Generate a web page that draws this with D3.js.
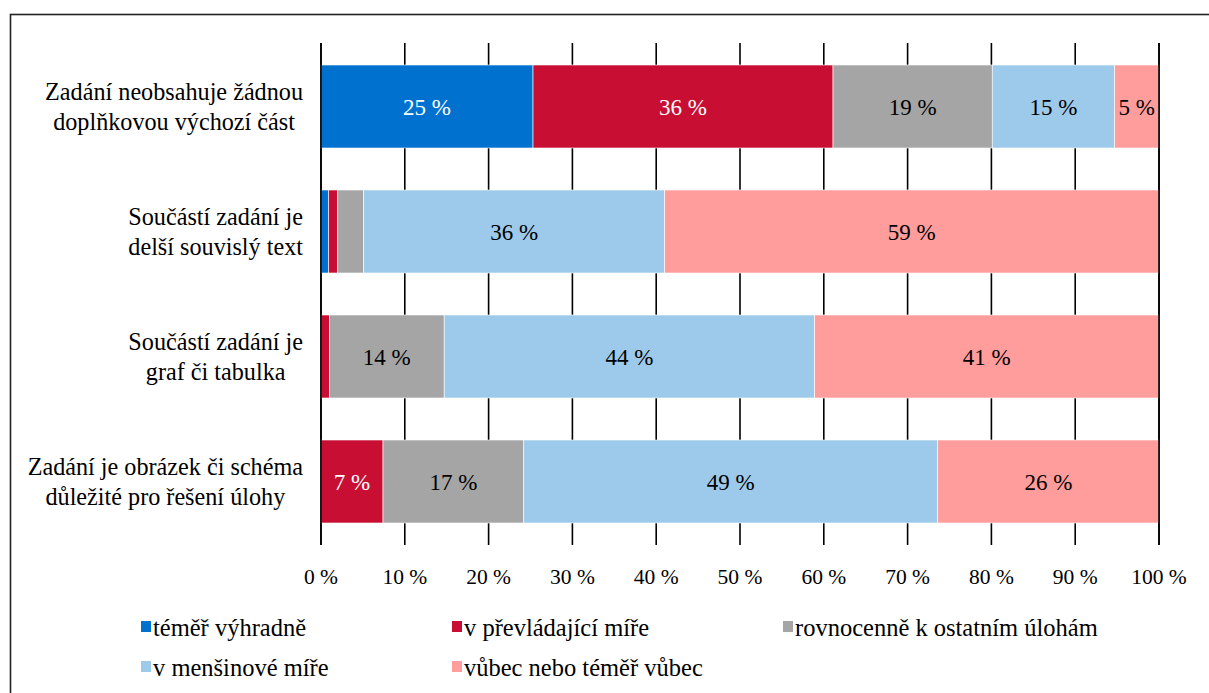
<!DOCTYPE html>
<html>
<head>
<meta charset="utf-8">
<script src="https://cdn.jsdelivr.net/npm/d3@7"></script>
<style>
  body { margin: 0; background: #fff; }
  svg { display: block; }
  text { font-family: "Liberation Serif", "Times New Roman", Times, "DejaVu Serif", serif; }
</style>
</head>
<body>
<svg id="chart" width="1209" height="693"></svg>
<script>
const categories = [
  ['Zadání neobsahuje žádnou', 'doplňkovou výchozí část'],
  ['Součástí zadání je', 'delší souvislý text'],
  ['Součástí zadání je', 'graf či tabulka'],
  ['Zadání je obrázek či schéma', 'důležité pro řešení úlohy']
]
const seriesNames = [
  'téměř výhradně',
  'v převládající míře',
  'rovnocenně k ostatním úlohám',
  'v menšinové míře',
  'vůbec nebo téměř vůbec'
]
const seriesColors = ['#0071ce', '#c80f33', '#a5a5a5', '#9dcaea', '#ff9c9c']
const labelColors = ['#fff', '#fff', '#000', '#000', '#000']

// one value per row (top to bottom)
const temerVyhradne = [25.3, 0.9, 0, 0]
const vPrevladajici = [35.8, 1.1, 1.0, 7.4]
const rovnocenne = [19.0, 3.1, 13.7, 16.8]
const vMensinove = [14.6, 35.9, 44.2, 49.4]
const vubec = [5.3, 59.0, 41.1, 26.4]

const tickValues = [0, 10, 20, 30, 40, 50, 60, 70, 80, 90, 100]

const seriesValues = [temerVyhradne, vPrevladajici, rovnocenne, vMensinove, vubec]
const rows = categories.map((c, i) => {
  const r = { id: i }
  seriesNames.forEach((s, j) => { r[s] = seriesValues[j][i] })
  return r
})

const serif = '"Liberation Serif", "Times New Roman", Times, "DejaVu Serif", serif'
const svg = d3.select('#chart').attr('font-family', serif)

// outer frame, runs past the window edges
svg.append('rect')
  .attr('x', 10.5).attr('y', 14.5)
  .attr('width', 1260).attr('height', 720)
  .attr('fill', 'none').attr('stroke', '#222').attr('stroke-width', 1.6)

const x = d3.scaleLinear().domain([0, 100]).range([321, 1159])
const y = d3.scaleBand().domain(d3.range(categories.length))
  .range([44, 544]).paddingInner(0.336).paddingOuter(0.168)

const gridTop = 43
const gridBottom = 545

const grid = svg.append('g')
grid.selectAll('line')
  .data(tickValues)
  .join('line')
  .attr('x1', d => x(d)).attr('x2', d => x(d))
  .attr('y1', gridTop).attr('y2', gridBottom)
  .attr('stroke', '#000').attr('stroke-width', 1.6)

const stacked = d3.stack().keys(seriesNames)(rows)

const layer = svg.append('g')
  .selectAll('g')
  .data(stacked)
  .join('g')
  .attr('fill', (d, i) => seriesColors[i])

layer.selectAll('rect')
  .data(d => d)
  .join('rect')
  .attr('x', d => x(d[0]))
  .attr('width', d => x(d[1]) - x(d[0]))
  .attr('y', (d, i) => y(i))
  .attr('height', y.bandwidth())
  .attr('stroke', '#fff').attr('stroke-width', 0.6)

layer.selectAll('text')
  .data((d, si) => d.map((p, i) => ({ p, i, si })).filter(o => o.p[1] - o.p[0] >= 4))
  .join('text')
  .attr('x', o => (x(o.p[0]) + x(o.p[1])) / 2)
  .attr('y', o => y(o.i) + y.bandwidth() / 2)
  .attr('dy', '0.35em')
  .attr('text-anchor', 'middle')
  .attr('font-size', 23)
  .attr('fill', o => labelColors[o.si])
  .text(o => Math.round(o.p[1] - o.p[0]) + ' %')

// edge lines on top of bars
svg.append('g').selectAll('line')
  .data([0, 100])
  .join('line')
  .attr('x1', d => x(d)).attr('x2', d => x(d))
  .attr('y1', gridTop).attr('y2', gridBottom)
  .attr('stroke', '#000').attr('stroke-width', 1.6)

// tick labels
svg.append('g').selectAll('text')
  .data(tickValues)
  .join('text')
  .attr('x', d => x(d))
  .attr('y', 584)
  .attr('text-anchor', 'middle')
  .attr('font-size', 21.5)
  .text(d => d + ' %')

// category labels: lines centred inside a right-aligned block
const catRight = 303
const lineGap = 30
categories.forEach((lines, i) => {
  const g = svg.append('g')
  const cy = y(i) + y.bandwidth() / 2
  const texts = lines.map((t, k) => g.append('text')
    .attr('y', cy + (k - (lines.length - 1) / 2) * lineGap)
    .attr('dy', '0.35em')
    .attr('text-anchor', 'middle')
    .attr('font-size', 24.2)
    .text(t))
  const w = d3.max(texts, t => t.node().getComputedTextLength())
  texts.forEach(t => t.attr('x', catRight - w / 2))
})

// legend
const legendCols = [141, 452, 783]
const legendRows = [627, 667]
const legend = svg.append('g').selectAll('g')
  .data(seriesNames)
  .join('g')
  .attr('transform', (d, i) => `translate(${legendCols[i % 3]},${legendRows[Math.floor(i / 3)]})`)

legend.append('rect')
  .attr('x', 0).attr('y', -6)
  .attr('width', 10).attr('height', 11)
  .attr('fill', (d, i) => seriesColors[i])

legend.append('text')
  .attr('x', 12).attr('y', 0)
  .attr('dy', '0.35em')
  .attr('font-size', 24.5)
  .text(d => d)
</script>
</body>
</html>
